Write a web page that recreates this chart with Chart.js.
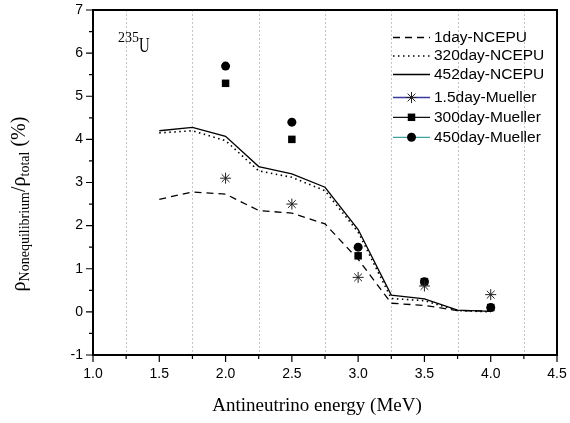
<!DOCTYPE html>
<html>
<head>
<meta charset="utf-8">
<script src="https://cdn.jsdelivr.net/npm/chart.js@4/dist/chart.umd.min.js"></script>
<style>
  html, body { margin: 0; padding: 0; background: #fff; }
  #wrap { width: 570px; height: 423px; position: relative; }
</style>
</head>
<body>
<div id="wrap"><canvas id="c" width="570" height="423"></canvas></div>
<script>
// ---- data ----
const energyNCEPU = [1.5, 1.75, 2.0, 2.25, 2.5, 2.75, 3.0, 3.25, 3.5, 3.75, 4.0];
const ncepu1day   = [2.61, 2.78, 2.73, 2.35, 2.29, 2.04, 1.22, 0.20, 0.15, 0.03, 0.02];
const ncepu320day = [4.15, 4.20, 3.97, 3.27, 3.12, 2.81, 1.85, 0.31, 0.26, 0.03, 0.00];
const ncepu452day = [4.20, 4.28, 4.07, 3.37, 3.20, 2.89, 1.91, 0.39, 0.30, 0.04, 0.01];

const energyMueller = [2.0, 2.5, 3.0, 3.5, 4.0];
const mueller1_5day = [3.1, 2.5, 0.8, 0.6, 0.4];
const mueller300day = [5.3, 4.0, 1.3, 0.7, 0.1];
const mueller450day = [5.7, 4.4, 1.5, 0.7, 0.1];

const seriesLabels = ['1day-NCEPU', '320day-NCEPU', '452day-NCEPU', '1.5day-Mueller', '300day-Mueller', '450day-Mueller'];
const xTickValues = [1.0, 1.5, 2.0, 2.5, 3.0, 3.5, 4.0, 4.5];
const yTickValues = [-1, 0, 1, 2, 3, 4, 5, 6, 7];

const xTitle = 'Antineutrino energy (MeV)';
const yTitleParts = [['ρ', 'main'], ['Nonequilibrium', 'sub'], ['/ρ', 'main'], ['total', 'sub'], [' (%)', 'main']];
const annotation = ['235', 'U'];

// ---- styling ----
const SANS = "'Liberation Sans', Arial, sans-serif";
const SERIF = "'Liberation Serif', 'Times New Roman', serif";
const legendLineColors = ['#000', '#000', '#000', '#3a3a9c', '#111', '#3fa3a3'];
const legendRowY = [37.5, 56, 74.5, 97.5, 117.3, 137.3];

const toPts = (xs, ys) => xs.map((x, i) => ({ x: x, y: ys[i] }));

const datasets = [
  { label: seriesLabels[0], data: toPts(energyNCEPU, ncepu1day), borderColor: '#000', borderWidth: 1.3, borderDash: [7, 5], pointRadius: 0, fill: false, tension: 0 },
  { label: seriesLabels[1], data: toPts(energyNCEPU, ncepu320day), borderColor: '#000', borderWidth: 1.6, borderDash: [1.5, 3.5], pointRadius: 0, fill: false, tension: 0 },
  { label: seriesLabels[2], data: toPts(energyNCEPU, ncepu452day), borderColor: '#000', borderWidth: 1.3, pointRadius: 0, fill: false, tension: 0 },
  { label: seriesLabels[3], data: toPts(energyMueller, mueller1_5day), showLine: false, pointStyle: 'star', pointRadius: 5.5, borderColor: '#222', backgroundColor: '#222', pointBorderWidth: 1 },
  { label: seriesLabels[4], data: toPts(energyMueller, mueller300day), showLine: false, pointStyle: 'rect', pointRadius: 5.3, borderColor: '#000', backgroundColor: '#000', pointBorderWidth: 0 },
  { label: seriesLabels[5], data: toPts(energyMueller, mueller450day), showLine: false, pointStyle: 'circle', pointRadius: 4.5, borderColor: '#000', backgroundColor: '#000', pointBorderWidth: 0 }
];

const decor = {
  id: 'decor',
  beforeDatasetsDraw(chart) {
    const ctx = chart.ctx, a = chart.chartArea, xs = chart.scales.x;
    ctx.save();
    ctx.strokeStyle = '#c4c4c4';
    ctx.lineWidth = 1;
    ctx.setLineDash([2, 2]);
    for (let i = 0; i < xTickValues.length - 1; i++) {
      const v = (xTickValues[i] + xTickValues[i + 1]) / 2;
      const px = Math.round(xs.getPixelForValue(v)) + 0.5;
      ctx.beginPath(); ctx.moveTo(px, a.top); ctx.lineTo(px, a.bottom); ctx.stroke();
    }
    ctx.restore();
  },
  afterDraw(chart) {
    const ctx = chart.ctx, a = chart.chartArea, xs = chart.scales.x, ys = chart.scales.y;
    ctx.save();
    // frame
    ctx.strokeStyle = '#000';
    ctx.lineWidth = 2;
    ctx.strokeRect(a.left, a.top, a.right - a.left, a.bottom - a.top);
    // ticks
    ctx.lineWidth = 1.2;
    ctx.beginPath();
    xTickValues.forEach((v, i) => {
      const px = xs.getPixelForValue(v);
      ctx.moveTo(px, a.bottom); ctx.lineTo(px, a.bottom + 7);
      if (i < xTickValues.length - 1) {
        const pm = xs.getPixelForValue((v + xTickValues[i + 1]) / 2);
        ctx.moveTo(pm, a.bottom); ctx.lineTo(pm, a.bottom + 4);
      }
    });
    yTickValues.forEach((v, i) => {
      const py = ys.getPixelForValue(v);
      ctx.moveTo(a.left, py); ctx.lineTo(a.left - 7, py);
      if (i < yTickValues.length - 1) {
        const pm = ys.getPixelForValue((v + yTickValues[i + 1]) / 2);
        ctx.moveTo(a.left, pm); ctx.lineTo(a.left - 4, pm);
      }
    });
    ctx.stroke();

    // x title
    ctx.fillStyle = '#000';
    ctx.font = '19px ' + SERIF;
    ctx.textAlign = 'center';
    ctx.textBaseline = 'middle';
    ctx.fillText(xTitle, 317, 406);

    // y title (rotated, with subscripts)
    const fonts = { main: '20px ' + SERIF, sub: '14px ' + SERIF };
    const shift = { main: 0, sub: 4 };
    let total = 0;
    yTitleParts.forEach(p => { ctx.font = fonts[p[1]]; total += ctx.measureText(p[0]).width; });
    ctx.save();
    ctx.translate(25, 204);
    ctx.rotate(-Math.PI / 2);
    ctx.textAlign = 'left';
    ctx.textBaseline = 'alphabetic';
    let cx = -total / 2;
    yTitleParts.forEach(p => {
      ctx.font = fonts[p[1]];
      ctx.fillText(p[0], cx, shift[p[1]]);
      cx += ctx.measureText(p[0]).width;
    });
    ctx.restore();

    // 235U annotation
    ctx.textAlign = 'left';
    ctx.textBaseline = 'alphabetic';
    ctx.font = '14px ' + SERIF;
    ctx.fillText(annotation[0], 118, 42);
    const w = ctx.measureText(annotation[0]).width;
    ctx.save();
    ctx.translate(118 + w, 52);
    ctx.scale(0.78, 1.15);
    ctx.font = '19px ' + SERIF;
    ctx.fillText(annotation[1], 0, 0);
    ctx.restore();

    // legend
    const lx0 = 393, lx1 = 430, tx = 434;
    chart.data.datasets.forEach((ds, i) => {
      const y = legendRowY[i];
      ctx.save();
      ctx.strokeStyle = legendLineColors[i];
      ctx.lineWidth = ds.borderDash && ds.borderDash[0] < 2 ? 1.6 : 1.3;
      ctx.setLineDash(ds.showLine === false ? [] : (ds.borderDash || []));
      ctx.beginPath(); ctx.moveTo(lx0, y); ctx.lineTo(lx1, y); ctx.stroke();
      ctx.setLineDash([]);
      if (ds.showLine === false) {
        ctx.fillStyle = ds.backgroundColor;
        ctx.strokeStyle = ds.borderColor;
        ctx.lineWidth = ds.pointBorderWidth || 1;
        Chart.helpers.drawPoint(ctx, { pointStyle: ds.pointStyle, radius: ds.pointRadius, rotation: 0, borderWidth: ds.pointBorderWidth }, (lx0 + lx1) / 2, y);
      }
      ctx.restore();
      ctx.fillStyle = '#000';
      ctx.font = '15.5px ' + SANS;
      ctx.textBaseline = 'middle';
      ctx.fillText(ds.label, tx, y);
    });
    ctx.restore();
  }
};

const bgPlugin = {
  id: 'bg',
  beforeDraw(chart) {
    const ctx = chart.ctx;
    ctx.save(); ctx.fillStyle = '#fff'; ctx.fillRect(0, 0, chart.width, chart.height); ctx.restore();
  }
};

new Chart(document.getElementById('c'), {
  type: 'line',
  data: { datasets: datasets },
  options: {
    responsive: false,
    animation: false,
    devicePixelRatio: 1,
    layout: { padding: { left: 0, top: 10, right: 13, bottom: 0 } },
    plugins: { legend: { display: false }, tooltip: { enabled: false } },
    elements: { line: { tension: 0 } },
    scales: {
      x: {
        type: 'linear', min: 1, max: 4.5,
        afterFit: s => { s.height = 68; s.paddingLeft = 0; s.paddingRight = 0; },
        afterBuildTicks: s => { s.ticks = xTickValues.map(v => ({ value: v })); },
        grid: { display: false, drawTicks: false },
        border: { display: false },
        ticks: { color: '#000', font: { family: SANS, size: 14 }, padding: 11, maxRotation: 0, autoSkip: false, callback: v => Number(v).toFixed(1) }
      },
      y: {
        type: 'linear', min: -1, max: 7,
        afterFit: s => { s.width = 93; s.paddingTop = 0; s.paddingBottom = 0; },
        afterBuildTicks: s => { s.ticks = yTickValues.map(v => ({ value: v })); },
        grid: { display: false, drawTicks: false },
        border: { display: false },
        ticks: { color: '#000', font: { family: SANS, size: 14 }, padding: 10, autoSkip: false, callback: v => String(v) }
      }
    }
  },
  plugins: [bgPlugin, decor]
});
</script>
</body>
</html>
